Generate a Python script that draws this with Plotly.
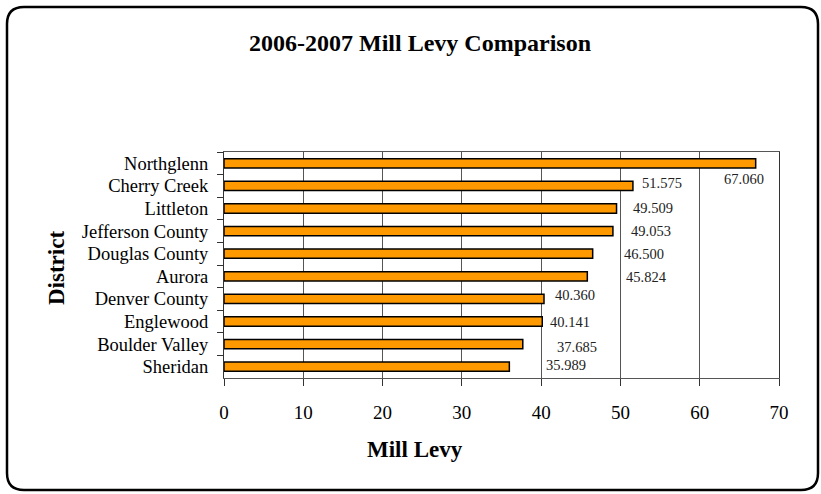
import plotly.graph_objects as go

# District mill levies, 2006-2007
districts = ["Northglenn", "Cherry Creek", "Littleton", "Jefferson County",
             "Douglas County", "Aurora", "Denver County", "Englewood",
             "Boulder Valley", "Sheridan"]
mill_levy = [67.060, 51.575, 49.509, 49.053, 46.500, 45.824, 40.360, 40.141,
             37.685, 35.989]
x_ticks = [0, 10, 20, 30, 40, 50, 60, 70]

# nudges (px) for each value label relative to the end of its bar
label_dx = [-34, 7, 14, 16, 29, 37, 9, 6, 32, 35]
label_dy = [-16, 3, 1, 0, 0, -1, 4, 0, -3, 2]

W, H = 821, 494
L, R, T, B = 224, 42, 152, 116
pw, ph = W - L - R, H - T - B

SERIF = "Liberation Serif, Times New Roman, serif"

fig = go.Figure(go.Bar(
    x=mill_levy, y=districts, orientation="h",
    marker=dict(color="#FF9900", line=dict(color="#000000", width=1.5)),
    hoverinfo="x+y",
))

annotations = []
for d, v, dx, dy in zip(districts, mill_levy, label_dx, label_dy):
    annotations.append(dict(
        x=v, y=d, xref="x", yref="y", text=f"{v:.3f}", showarrow=False,
        xanchor="left", yanchor="middle", xshift=dx, yshift=dy,
        font=dict(family=SERIF, size=14.5, color="#222222"),
    ))


def px_x(px):
    return (px - L) / pw


def px_y(py):
    return (H - B - py) / ph


annotations += [
    dict(text="<b>2006-2007 Mill Levy Comparison</b>", xref="paper", yref="paper",
         x=px_x(420), y=px_y(43), showarrow=False, xanchor="center", yanchor="middle",
         font=dict(family=SERIF, size=24, color="#000000")),
    dict(text="<b>Mill Levy</b>", xref="paper", yref="paper",
         x=px_x(415), y=px_y(449), showarrow=False, xanchor="center", yanchor="middle",
         font=dict(family=SERIF, size=23, color="#000000")),
    dict(text="<b>District</b>", xref="paper", yref="paper", textangle=-90,
         x=px_x(56), y=px_y(268), showarrow=False, xanchor="center", yanchor="middle",
         font=dict(family=SERIF, size=23, color="#000000")),
]

# rounded frame around the whole chart
x0, x1, y0, y1, r = 7, 818, 7, 490, 17
rx, ry = r / pw, r / ph
X0, X1, Y0, Y1 = px_x(x0), px_x(x1), px_y(y1), px_y(y0)
frame = (f"M {X0 + rx} {Y1} L {X1 - rx} {Y1} Q {X1} {Y1} {X1} {Y1 - ry} "
         f"L {X1} {Y0 + ry} Q {X1} {Y0} {X1 - rx} {Y0} "
         f"L {X0 + rx} {Y0} Q {X0} {Y0} {X0} {Y0 + ry} "
         f"L {X0} {Y1 - ry} Q {X0} {Y1} {X0 + rx} {Y1} Z")

fig.update_layout(
    width=W, height=H,
    margin=dict(l=L, r=R, t=T, b=B),
    paper_bgcolor="white", plot_bgcolor="white",
    showlegend=False, bargap=0.59,
    annotations=annotations,
    shapes=[dict(type="path", path=frame, xref="paper", yref="paper",
                 line=dict(color="#000000", width=2.5), layer="above")],
    xaxis=dict(
        range=[0, 70], tickvals=x_ticks, ticktext=[str(t) for t in x_ticks],
        showgrid=True, gridcolor="#555555", gridwidth=1, zeroline=False,
        showline=True, linecolor="#555555", linewidth=1, mirror=True,
        ticks="outside", ticklen=7, tickcolor="#333333",
        ticklabelstandoff=10,
        tickfont=dict(family=SERIF, size=19, color="#000000"),
        fixedrange=True,
    ),
    yaxis=dict(
        categoryorder="array", categoryarray=districts,
        range=[len(districts) - 0.5, -0.5], autorange=False,
        showgrid=False, zeroline=False,
        showline=True, linecolor="#333333", linewidth=1, mirror=True,
        ticks="outside", ticklen=6, tickcolor="#333333", tickson="boundaries",
        ticklabelstandoff=11,
        tickfont=dict(family=SERIF, size=18.5, color="#000000"),
        fixedrange=True,
    ),
)

fig.write_html("out.html")
